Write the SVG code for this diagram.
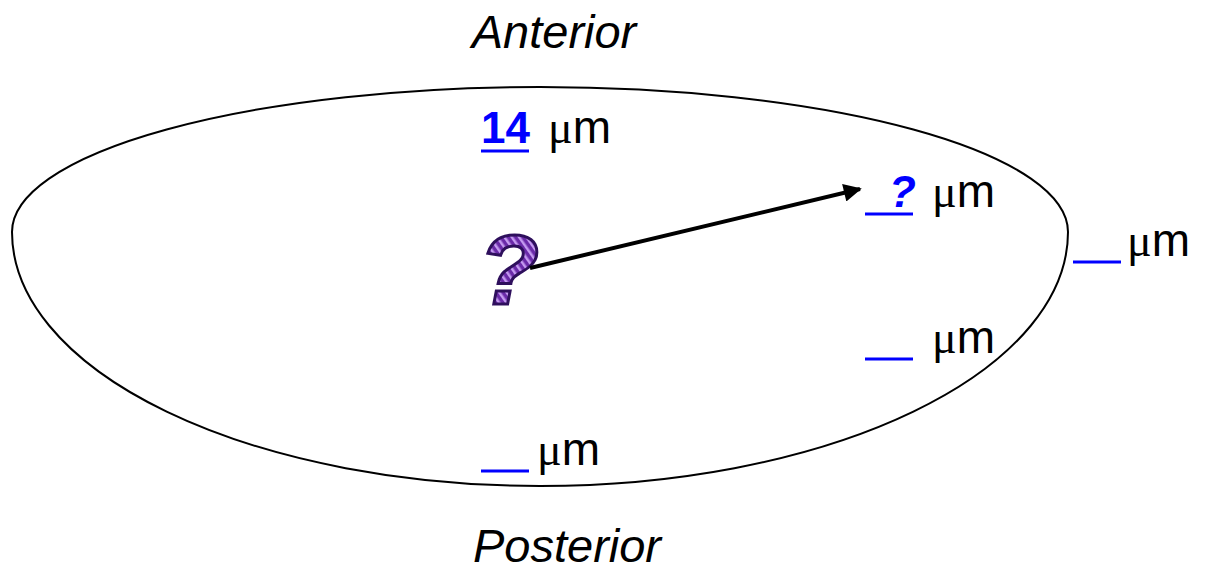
<svg xmlns="http://www.w3.org/2000/svg" width="1205" height="573" viewBox="0 0 1205 573">
  <style>
    .lbl { font-family: "Liberation Sans", Arial, sans-serif; font-style: italic; font-size: 47px; fill: #000; }
    .num { font-family: "Liberation Sans", Arial, sans-serif; font-weight: bold; font-size: 44px; fill: #0000ff; }
    .mu { font-family: "Liberation Serif", "Times New Roman", serif; font-size: 46px; fill: #000; }
    .m { font-family: "Liberation Sans", Arial, sans-serif; font-size: 46px; fill: #000; }
    .ul { stroke: #0000ff; stroke-width: 3; }
    .outline { fill: none; stroke: #000; stroke-width: 2; }
  </style>
  <defs>
    <marker id="arrow" viewBox="0 0 10 10" refX="9" refY="5" markerWidth="6" markerHeight="4.5" orient="auto" markerUnits="strokeWidth">
      <path d="M0,0 L10,5 L0,10 Z" fill="#000"/>
    </marker>
    <pattern id="stripes" patternUnits="userSpaceOnUse" width="6" height="6" patternTransform="rotate(-35)">
      <rect width="6" height="6" fill="#6a2aa8"/>
      <rect width="2.5" height="6" fill="#c49af0"/>
    </pattern>
  </defs>
  <rect width="1205" height="573" fill="#fff"/>

  <g id="cell">
    <path class="outline" d="M12,232 A528,145 0 0 1 1068,232"/>
    <path class="outline" d="M12,232 A528,254 0 0 0 1068,232"/>
  </g>

  <g id="anterior"><text class="lbl" x="554" y="48" text-anchor="middle">Anterior</text></g>
  <g id="posterior"><text class="lbl" x="567" y="562" text-anchor="middle">Posterior</text></g>

  <g id="q-mark">
    <text x="509" y="304" text-anchor="middle" font-family="'Liberation Sans', Arial, sans-serif" font-weight="bold" font-style="italic" font-size="98" fill="url(#stripes)" stroke="#2e0f5c" stroke-width="3">?</text>
  </g>

  <g id="connectors">
    <line x1="530" y1="268" x2="860" y2="189" stroke="#000" stroke-width="4" marker-end="url(#arrow)"/>
  </g>

  <g id="top-label">
    <text class="num" x="481" y="143">14</text>
    <line class="ul" x1="481" y1="151" x2="529" y2="151"/>
    <text x="548" y="143"><tspan class="mu">μ</tspan><tspan class="m">m</tspan></text>
  </g>

  <g id="upper-right-label">
    <text class="num" x="889" y="207" font-style="italic">?</text>
    <line class="ul" x1="865" y1="214" x2="913" y2="214"/>
    <text x="932" y="207"><tspan class="mu">μ</tspan><tspan class="m">m</tspan></text>
  </g>

  <g id="right-label">
    <line class="ul" x1="1073" y1="262" x2="1121" y2="262"/>
    <text x="1127" y="256"><tspan class="mu">μ</tspan><tspan class="m">m</tspan></text>
  </g>

  <g id="lower-right-label">
    <line class="ul" x1="865" y1="359" x2="913" y2="359"/>
    <text x="932" y="353"><tspan class="mu">μ</tspan><tspan class="m">m</tspan></text>
  </g>

  <g id="bottom-label">
    <line class="ul" x1="481" y1="471" x2="529" y2="471"/>
    <text x="537" y="465"><tspan class="mu">μ</tspan><tspan class="m">m</tspan></text>
  </g>
</svg>
